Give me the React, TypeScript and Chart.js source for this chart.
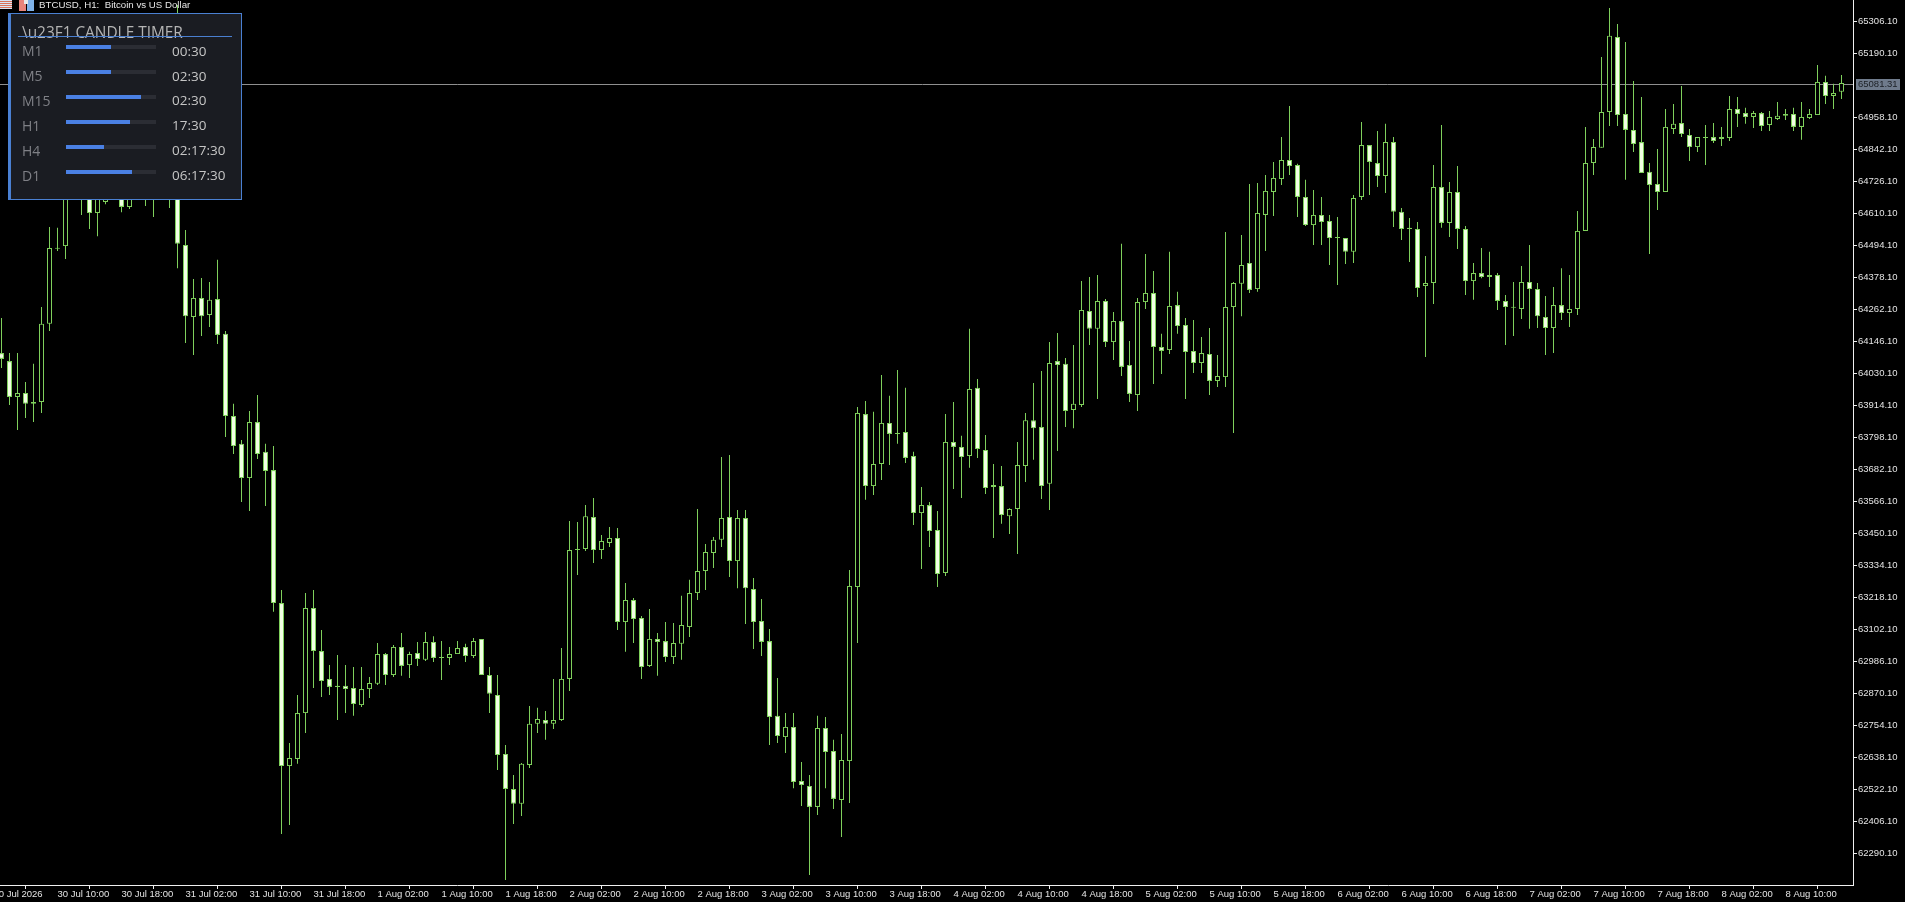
import React, { useEffect, useRef } from "react";
import { Chart, registerables } from "chart.js";

Chart.register(...registerables);

const opens = [
  64104,64075,63945,63959,63920,63927,64210,64482,64492,64732,
  64688,64702,64612,64652,64739,64713,64634,64732,64677,64750,
  64695,64768,64768,64496,64235,64304,64242,64300,64174,63876,
  63775,63651,63854,63746,63680,63198,62607,62633,62799,63180,
  63024,62923,62894,62898,62890,62828,62886,62905,63013,62937,
  63039,62973,63017,62992,63057,62999,62999,63013,63039,63006,
  63068,62937,62865,62651,62524,62470,62611,62760,62774,62760,
  62774,62923,63390,63394,63510,63390,63416,63434,63129,63209,
  63144,62970,63068,63060,63002,63050,63111,63234,63314,63379,
  63427,63510,63350,63506,63249,63133,63060,62789,62712,62749,
  62553,62535,62459,62745,62662,62484,62625,63256,63883,63622,
  63702,63851,63811,63818,63731,63524,63553,63463,63307,63782,
  63764,63731,63978,63753,63619,63622,63513,63539,63695,63861,
  63836,63630,64075,64065,63898,63916,64257,64192,64293,64144,
  64220,64061,63952,64289,64322,64126,64115,64278,64206,64112,
  64068,64101,64003,64017,64271,64355,64431,64336,64605,64688,
  64735,64804,64786,64670,64568,64605,64583,64525,64521,64471,
  64670,64858,64793,64746,64869,64616,64558,64554,64347,64358,
  64706,64576,64688,64554,64365,64394,64380,64387,64293,64271,
  64264,64362,64336,64235,64195,64278,64249,64264,64547,64793,
  64848,64978,65250,64971,64913,64869,64761,64717,64688,64916,
  64938,64895,64851,64887,64887,64880,64884,64989,64974,64960,
  64974,64931,64953,64964,64971,64924,64956,64967,65087,65036,65051,
];

const closes = [
  64083,63945,63959,63920,63927,64210,64485,64485,64695,64677,
  64750,64612,64666,64695,64695,64634,64702,64688,64732,64688,
  64750,64702,64500,64238,64304,64238,64297,64170,63876,63767,
  63651,63854,63738,63677,63198,62607,62636,62799,63180,63024,
  62915,62894,62898,62886,62832,62886,62908,63013,62937,63039,
  62970,63013,62995,63057,62999,63002,63013,63035,63006,63060,
  62937,62869,62647,62524,62470,62615,62760,62778,62760,62774,
  62923,63390,63394,63513,63390,63423,63434,63129,63209,63140,
  62966,63068,63057,63002,63053,63118,63234,63314,63383,63427,
  63506,63350,63506,63252,63129,63057,62785,62716,62749,62549,
  62538,62459,62745,62658,62488,62629,63260,63887,63622,63702,
  63851,63811,63814,63724,63524,63553,63459,63303,63782,63764,
  63727,63974,63756,63615,63626,63517,63539,63698,63861,63832,
  63622,64068,64061,63894,63920,64260,64192,64293,64144,64220,
  64054,63956,64289,64322,64126,64112,64275,64202,64108,64068,
  64104,64003,64021,64271,64358,64423,64333,64612,64692,64739,
  64804,64782,64670,64568,64605,64579,64521,64521,64471,64666,
  64858,64797,64746,64869,64616,64554,64554,64340,64358,64706,
  64576,64688,64554,64365,64394,64380,64387,64293,64271,64268,
  64362,64336,64238,64195,64278,64249,64264,64547,64793,64851,
  64978,65254,64967,64913,64862,64757,64713,64688,64924,64935,
  64898,64851,64887,64884,64873,64887,64989,64971,64960,64974,
  64927,64960,64964,64971,64924,64960,64971,65087,65036,65047,65083,
];

const highs = [
  64231,64104,64104,63999,64065,64271,64561,64558,64768,64786,
  64804,64761,64732,64750,64786,64768,64761,64775,64786,64840,
  64822,64840,65366,64550,64373,64376,64362,64442,64184,63920,
  63789,63894,63952,63775,63767,63245,62691,62865,63234,63245,
  63100,62973,63010,62973,62966,62966,62930,63053,63017,63046,
  63089,63021,63057,63093,63078,63060,63039,63060,63050,63071,
  63068,62966,62937,62683,62575,62618,62825,62818,62807,62923,
  63035,63495,63492,63553,63579,63445,63474,63470,63271,63216,
  63151,63176,63089,63129,63126,63224,63282,63539,63412,63437,
  63727,63735,63535,63535,63289,63213,63104,62926,62799,62799,
  62622,62575,62789,62785,62702,62723,63318,63909,63930,63891,
  64025,63949,64043,63978,63746,63619,63564,63532,63883,63927,
  63804,64192,64010,63807,63702,63695,63542,63782,63887,63996,
  64039,64144,64177,64086,64133,64365,64380,64387,64300,64253,
  64500,64148,64304,64463,64402,64174,64471,64326,64231,64224,
  64162,64195,64097,64543,64362,64532,64717,64721,64750,64797,
  64887,65000,64790,64732,64695,64670,64605,64597,64521,64677,
  64942,64858,64909,64935,64887,64630,64594,64579,64456,64786,
  64931,64724,64782,64565,64431,64485,64471,64394,64315,64362,
  64420,64496,64358,64311,64344,64412,64387,64619,64924,64880,
  65177,65355,65297,65232,65090,65032,64793,64844,64989,65007,
  65072,64916,64887,64931,64938,64924,65036,65032,64993,64982,
  64978,64982,65014,64989,64993,65014,64989,65148,65109,65080,65112,
];

const lows = [
  64050,63916,63825,63869,63854,63887,64184,64474,64445,64666,
  64605,64554,64528,64644,64677,64615,64626,64670,64637,64597,
  64666,64630,64412,64141,64097,64166,64199,64137,63800,63738,
  63564,63532,63720,63550,63166,62361,62393,62615,62727,62890,
  62857,62865,62774,62799,62789,62821,62854,62901,62901,62930,
  62934,62926,62970,62988,62984,62919,62973,63013,62984,62999,
  62937,62799,62593,62194,62397,62426,62600,62727,62702,62741,
  62770,62879,63300,63387,63343,63358,63401,63100,63021,63053,
  62923,62966,62934,62984,62977,62992,63075,63209,63245,63325,
  63401,63292,63252,63122,63031,63006,62683,62691,62654,62527,
  62462,62212,62430,62527,62451,62350,62473,63053,63572,63590,
  63644,63698,63775,63706,63481,63321,63401,63256,63296,63611,
  63579,63688,63724,63593,63434,63485,63448,63376,63637,63717,
  63575,63535,63749,63836,63832,63909,64133,63938,64126,64079,
  64021,63927,63894,64264,63992,64028,64101,64174,63938,64032,
  64032,63952,63981,63981,63814,64238,64322,64326,64474,64601,
  64713,64750,64597,64565,64496,64496,64423,64351,64427,64431,
  64659,64677,64706,64684,64561,64514,64434,64307,64090,64282,
  64558,64525,64481,64315,64297,64375,64344,64260,64133,64166,
  64228,64192,64195,64097,64104,64224,64199,64242,64547,64750,
  64848,64927,64927,64732,64833,64757,64463,64623,64688,64898,
  64887,64800,64833,64786,64866,64855,64873,64924,64935,64920,
  64909,64909,64949,64949,64909,64877,64953,64967,65007,64989,65025,
];

const timeTickBars = [-1,7,15,23,31,39,47,55,63,71,79,87,95,103,111,119,127,135,143,151,159,167,175,183,191,199,207,215,223];
const timeTickLabels = [
  "30 Jul 2026","30 Jul 10:00","30 Jul 18:00","31 Jul 02:00","31 Jul 10:00","31 Jul 18:00",
  "1 Aug 02:00","1 Aug 10:00","1 Aug 18:00","2 Aug 02:00","2 Aug 10:00","2 Aug 18:00",
  "3 Aug 02:00","3 Aug 10:00","3 Aug 18:00","4 Aug 02:00","4 Aug 10:00","4 Aug 18:00",
  "5 Aug 02:00","5 Aug 10:00","5 Aug 18:00","6 Aug 02:00","6 Aug 10:00","6 Aug 18:00",
  "7 Aug 02:00","7 Aug 10:00","7 Aug 18:00","8 Aug 02:00","8 Aug 10:00",
];
const priceTicks = [
  65306.1,65190.1,64958.1,64842.1,64726.1,64610.1,64494.1,64378.1,64262.1,64146.1,64030.1,
  63914.1,63798.1,63682.1,63566.1,63450.1,63334.1,63218.1,63102.1,62986.1,62870.1,62754.1,
  62638.1,62522.1,62406.1,62290.1,
];
const lastPrice = 65081.31;
const chartTitle = "BTCUSD, H1:  Bitcoin vs US Dollar";

const timerLabels = ["M1","M5","M15","H1","H4","D1"];
const timerValues = ["00:30","02:30","02:30","17:30","02:17:30","06:17:30"];
const timerProgress = [50,50,83,71,42,73];

const GREEN = "#7fd05c";
const PALE = "#f2ffe4";
const AXIS = "#f0f0f0";
const LABEL_FONT = { family: "'Liberation Sans', Arial, sans-serif", size: 9.5 };

const priceLine = {
  id: "priceLine",
  beforeDatasetsDraw(chart: any) {
    const { ctx, chartArea, scales } = chart;
    const y = Math.round(scales.y.getPixelForValue(lastPrice)) + 0.5;
    ctx.save();
    ctx.strokeStyle = "#8f8f8f";
    ctx.lineWidth = 1;
    ctx.beginPath();
    ctx.moveTo(chartArea.left, y);
    ctx.lineTo(chartArea.right, y);
    ctx.stroke();
    ctx.restore();
  },
  afterDraw(chart: any) {
    const { ctx, chartArea, scales } = chart;
    const y = Math.round(scales.y.getPixelForValue(lastPrice));
    ctx.save();
    ctx.fillStyle = "#6f7b8c";
    ctx.fillRect(chartArea.right + 3, y - 5, 44, 11);
    ctx.fillStyle = "#1c2026";
    ctx.font = `${LABEL_FONT.size}px ${LABEL_FONT.family}`;
    ctx.textBaseline = "middle";
    ctx.textAlign = "left";
    ctx.fillText(lastPrice.toFixed(2), chartArea.right + 5, y + 0.5);
    ctx.restore();
  },
};

export default function App() {
  const ref = useRef<HTMLCanvasElement | null>(null);

  useEffect(() => {
    if (!ref.current) return;
    const chart = new Chart(ref.current, {
      type: "bar",
      plugins: [priceLine],
      data: {
        datasets: [
          {
            label: "body",
            order: 0,
            data: opens.map((o, i) => ({ x: i, y: [o, closes[i]] })),
            barThickness: 5,
            borderWidth: 1,
            borderSkipped: false,
            inflateAmount: 0,
            minBarLength: 1,
            borderColor: GREEN,
            backgroundColor: opens.map((o, i) => (closes[i] > o ? "#000000" : PALE)),
          },
          {
            label: "wick",
            order: 1,
            data: lows.map((l, i) => ({ x: i, y: [l, highs[i]] })),
            barThickness: 1,
            borderWidth: 0,
            inflateAmount: 0,
            backgroundColor: GREEN,
          },
        ] as any,
      },
      options: {
        responsive: false,
        animation: false,
        parsing: { xAxisKey: "x", yAxisKey: "y" },
        layout: { padding: 0 },
        datasets: { bar: { grouped: false } } as any,
        plugins: { legend: { display: false }, tooltip: { enabled: false } },
        scales: {
          x: {
            type: "linear",
            offset: false,
            bounds: "data",
            min: -1.1875,
            max: 231.4375,
            grid: { drawOnChartArea: false, drawTicks: true, tickLength: 4, color: AXIS },
            border: { color: AXIS },
            afterBuildTicks: (s: any) => {
              s.ticks = timeTickBars.map((value) => ({ value }));
            },
            afterFit: (s: any) => {
              s.height = 17;
              s.paddingLeft = 0;
              s.paddingRight = 0;
            },
            ticks: {
              autoSkip: false,
              maxRotation: 0,
              minRotation: 0,
              align: "start",
              padding: 0,
              color: "#e4e4e4",
              font: LABEL_FONT,
              callback: (_v: any, i: number) => timeTickLabels[i],
            },
          },
          y: {
            position: "right",
            type: "linear",
            bounds: "data",
            min: 62175.875,
            max: 65384,
            grid: { drawOnChartArea: false, drawTicks: true, tickLength: 4, color: AXIS },
            border: { color: AXIS },
            afterBuildTicks: (s: any) => {
              s.ticks = priceTicks.map((value) => ({ value }));
            },
            afterFit: (s: any) => {
              s.width = 52;
              s.paddingTop = 0;
              s.paddingBottom = 0;
            },
            ticks: {
              autoSkip: false,
              padding: 1,
              color: "#e4e4e4",
              font: LABEL_FONT,
              callback: (v: any) => Number(v).toFixed(2),
            },
          },
        },
      } as any,
    });
    return () => chart.destroy();
  }, []);

  return (
    <div style={{ position: "fixed", left: 0, top: 0, width: 1905, height: 902, background: "#000", overflow: "hidden" }}>
      <canvas ref={ref} width={1913} height={902} style={{ position: "absolute", left: -8, top: 0, width: 1913, height: 902 }} />
      <div style={{ position: "absolute", left: 0, top: 0, width: 12, height: 9, background: "repeating-linear-gradient(#d8e4f4 0 1px, #d8735a 1px 2px)" }} />
      <div style={{ position: "absolute", left: 19, top: 0, width: 7, height: 11, background: "#e8837a" }} />
      <div style={{ position: "absolute", left: 27, top: 0, width: 7, height: 11, background: "#7fb2e8" }} />
      <div style={{ position: "absolute", left: 24, top: 0, width: 4, height: 4, background: "#e8e8e8" }} />
      <div style={{ position: "absolute", left: 39, top: -1, height: 13, lineHeight: "13px", font: "9.7px 'Liberation Sans', Arial, sans-serif", color: "#e6e6e6", whiteSpace: "pre" }}>
        {chartTitle}
      </div>
      <div style={{ position: "absolute", left: 8, top: 13, width: 234, height: 187, boxSizing: "border-box", background: "#1a1c22", border: "1px solid #4a80d2", borderLeft: "3px solid #4a80d2", fontFamily: "'Open Sans', sans-serif" }}>
        <div style={{ position: "absolute", left: 11, top: 9, fontSize: 15.4, lineHeight: "20px", color: "#b4b4b4", whiteSpace: "pre" }}>
          {"\\u23F1 CANDLE TIMER"}
        </div>
        <div style={{ position: "absolute", left: 7, width: 214, top: 22, height: 1, background: "#4a7fd0" }} />
        {timerLabels.map((label, i) => (
          <React.Fragment key={label}>
            <div style={{ position: "absolute", left: 11, top: 27 + i * 24.9, fontSize: 14, lineHeight: "20px", color: "#7f8086" }}>{label}</div>
            <div style={{ position: "absolute", left: 55, top: 31 + i * 25, width: 90, height: 4, background: "#2b2d34" }}>
              <div style={{ width: `${timerProgress[i]}%`, height: 4, background: "#4a80e4" }} />
            </div>
            <div style={{ position: "absolute", left: 161, top: 26.6 + i * 24.9, fontSize: 13.5, lineHeight: "20px", color: "#c6c6c6" }}>{timerValues[i]}</div>
          </React.Fragment>
        ))}
      </div>
    </div>
  );
}
